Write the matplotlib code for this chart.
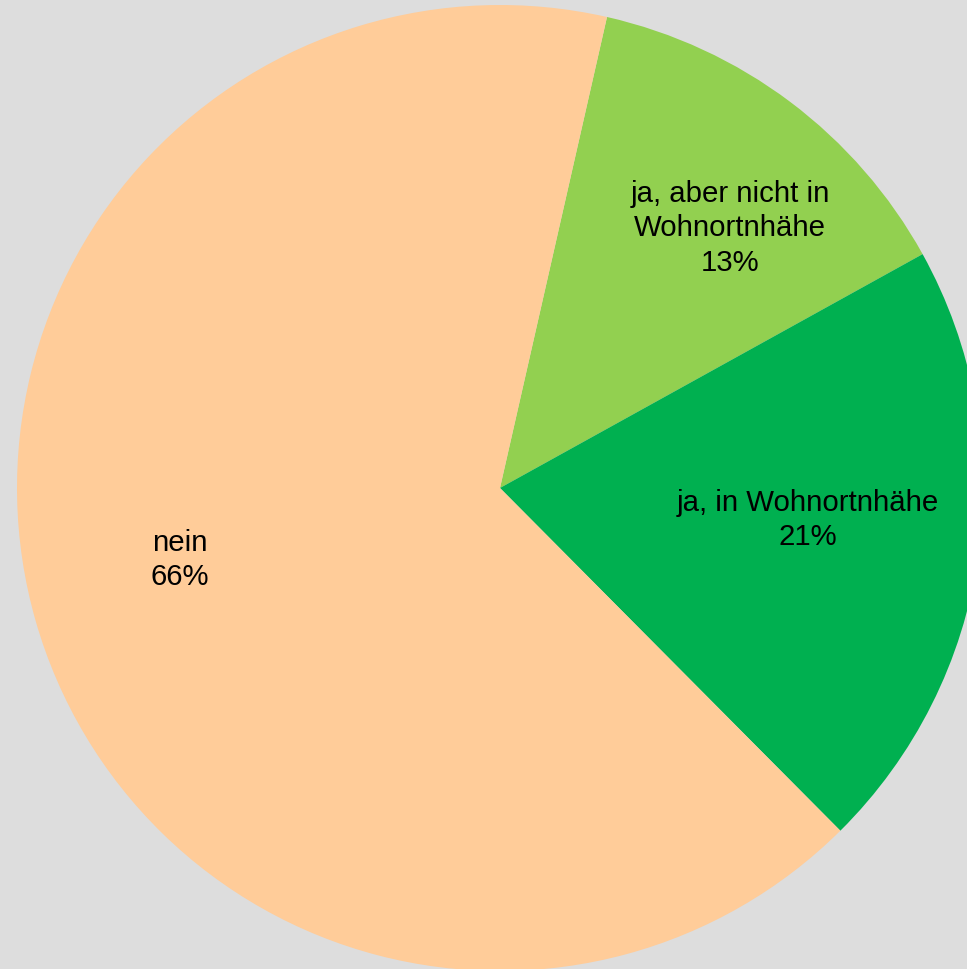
import matplotlib.pyplot as plt

labels = ["ja, aber nicht in\nWohnortnhähe", "ja, in Wohnortnhähe", "nein"]
shares = [13.4, 20.6, 66.0]
pct_text = ["13%", "21%", "66%"]
colors = ["#92D050", "#00B050", "#FFCC99"]
# label positions (in units of the pie radius)
label_x = [0.476, 0.638, -0.663]
label_y = [0.538, -0.066, -0.149]

if __name__ == '__main__':
    plt.rcParams['font.family'] = ['Liberation Sans', 'DejaVu Sans']
    fig = plt.figure(figsize=(9.67, 9.69), dpi=100)
    fig.patch.set_facecolor("#DDDDDD")
    ax = fig.add_axes([17 / 967, -2 / 969, 966 / 967, 966 / 969])
    ax.pie(shares, colors=colors, startangle=77.2, counterclock=False,
           radius=1, wedgeprops={"linewidth": 0})
    for i in range(len(labels)):
        ax.text(label_x[i], label_y[i], labels[i] + "\n" + pct_text[i],
                ha="center", va="center", fontsize=21.2, linespacing=1.3)
    ax.set_xlim(-1, 1)
    ax.set_ylim(-1, 1)
    ax.axis("off")
    fig.savefig("out.png", dpi=100, facecolor=fig.get_facecolor())
